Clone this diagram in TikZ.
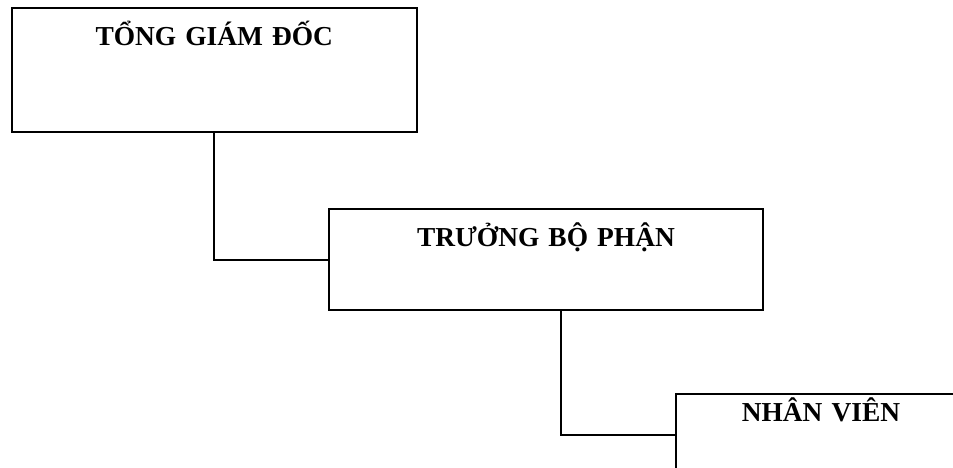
\documentclass[tikz,border=0pt]{standalone}
\usepackage{fontspec}
\setmainfont{Liberation Serif}
\begin{document}
\begin{tikzpicture}[x=1pt,y=-1pt,
  orgbox/.style={draw=black, line width=1.9pt, inner sep=0pt, anchor=north west,
    align=center, font=\bfseries\fontsize{27.4}{30}\selectfont},
  link/.style={draw=black, line width=1.9pt}]
\useasboundingbox (0,0) rectangle (953,467);
\clip (0,0) rectangle (953,467);

% three levels of the hierarchy
\node[orgbox, text width=404.7pt, text height=37.8pt, text depth=86.5pt]
  (gd) at (11,6.7) {TỔNG GIÁM ĐỐC};
\node[orgbox, text width=433.4pt, text height=37pt, text depth=63.7pt]
  (bp) at (328.3,208.3) {TRƯỞNG BỘ PHẬN};
\node[orgbox, text width=290pt, text height=26.9pt, text depth=54.5pt]
  (nv) at (675,393.3) {NHÂN VIÊN};

% elbow connectors
\draw[link] (gd.south) |- (bp.west);
\draw[link] ([xshift=15pt]bp.south) |- (nv.west);
\end{tikzpicture}
\end{document}
